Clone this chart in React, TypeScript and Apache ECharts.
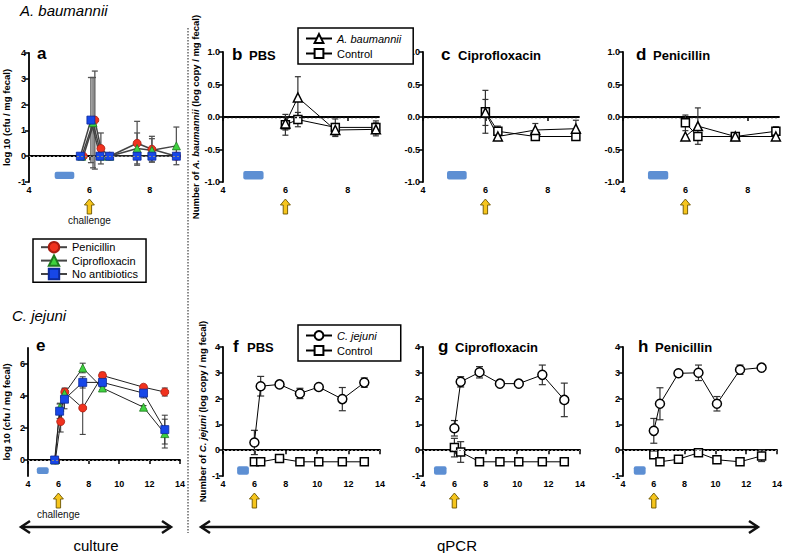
import React, { useEffect, useRef } from "react";
import * as echarts from "echarts";

// ---------- DATA ----------
const CHALLENGE_DAY = 6;

// Panel a: A. baumannii, culture (log10 cfu / mg fecal)
const aPenX = [5.8, 6.18, 6.38, 6.67, 7.58, 8.07, 8.88];
const aPenY = [0, 1.4, 0.3, 0, 0.5, 0.27, 0];
const aPenErr = [0, 1.9, 0.6, 0, 0.85, 0.5, 0];
const aCipX = [5.75, 6.12, 6.4, 6.67, 7.58, 8.07, 8.88];
const aCipY = [0, 1.3, 0, 0, 0.3, 0.23, 0.4];
const aCipErr = [0, 1.75, 0, 0, 0.6, 0.45, 0.73];
const aNoX = [5.7, 6.05, 6.35, 6.67, 7.58, 8.07, 8.88];
const aNoY = [0, 1.4, 0, 0, 0, 0, 0];
const aNoErr = [0, 1.65, 0, 0, 0, 0, 0];

// Panel e: C. jejuni, culture
const ePenX = [5.8, 6.15, 6.42, 7.6, 8.9, 11.6, 13];
const ePenY = [0, 2.4, 4.25, 3.25, 5.28, 4.55, 4.25];
const ePenErr = [0, 0.65, 0.25, 1.65, 0.2, 0.1, 0.25];
const eCipX = [5.78, 6.1, 6.4, 7.6, 8.9, 11.6, 13];
const eCipY = [0, 3.3, 4.15, 5.75, 4.5, 3.3, 1.65];
const eCipErr = [0, 0.25, 0.3, 0.3, 0.1, 0.1, 0.9];
const eNoX = [5.75, 6.08, 6.4, 7.6, 8.9, 11.6, 13];
const eNoY = [0, 3.05, 3.8, 4.85, 4.85, 4.18, 1.9];
const eNoErr = [0, 0.45, 0.6, 0.35, 0.3, 0.3, 0.9];

// Panels b-d: A. baumannii qPCR (log copy / mg fecal)
const abX = [6, 6.4, 7.6, 8.9];
const bAb = [-0.1, 0.3, -0.2, -0.19];
const bAbErr = [0.1, 0.32, 0.1, 0.1];
const bCtl = [-0.12, -0.04, -0.16, -0.16];
const bCtlErr = [0.16, 0.11, 0.13, 0.1];
const cAb = [0.07, -0.3, -0.2, -0.18];
const cAbErr = [0.2, 0.03, 0.1, 0.13];
const cCtl = [0.08, -0.22, -0.3, -0.3];
const cCtlErr = [0.33, 0.08, 0, 0];
const dAb = [-0.3, -0.14, -0.3, -0.3];
const dAbErr = [0, 0.28, 0, 0];
const dCtl = [-0.09, -0.3, -0.3, -0.22];
const dCtlErr = [0.12, 0, 0.03, 0.07];

// Panels f-h: C. jejuni qPCR
const cjX = [6, 6.4, 7.6, 8.9, 10.1, 11.6, 13];
const fCj = [0.3, 2.48, 2.55, 2.2, 2.45, 1.98, 2.62];
const fCjErr = [0.47, 0.38, 0.06, 0.2, 0.06, 0.45, 0.18];
const fCtl = [-0.45, -0.45, -0.32, -0.45, -0.45, -0.45, -0.45];
const fCtlErr = [0, 0, 0, 0, 0, 0, 0];
const gCj = [0.85, 2.65, 3.02, 2.58, 2.58, 2.92, 1.95];
const gCjErr = [0.3, 0.2, 0.22, 0.1, 0.1, 0.38, 0.65];
const gCtl = [0.1, -0.07, -0.45, -0.45, -0.45, -0.45, -0.45];
const gCtlErr = [0.36, 0.4, 0, 0, 0, 0, 0];
const hCj = [0.75, 1.8, 2.98, 3.0, 1.8, 3.12, 3.2];
const hCjErr = [0.48, 0.62, 0.1, 0.3, 0.28, 0.18, 0.05];
const hCtl = [-0.18, -0.45, -0.35, -0.1, -0.37, -0.45, -0.22];
const hCtlErr = [0.1, 0, 0, 0.1, 0, 0, 0.22];

// Antibiotic treatment period boxes per panel: [xStart, xEnd, yTop, yBottom]
const treatA = [4.85, 5.5, -0.6, -0.88];
const treatB = [4.65, 5.3, -0.83, -0.96];
const treatC = [4.77, 5.4, -0.83, -0.96];
const treatD = [4.8, 5.45, -0.83, -0.96];
const treatE = [4.58, 5.36, -0.45, -0.88];
const treatF = [4.9, 5.65, -0.62, -0.95];
const treatG = [4.7, 5.5, -0.62, -0.95];
const treatH = [4.7, 5.47, -0.62, -0.95];

// Tick labels
const xTicksTop = [4, 6, 8];
const yTicksE = [0, 2, 4, 6];

// ---------- LAYOUT ----------
const grids = [
  { left: 27, top: 53, width: 153, height: 129 }, // a
  { left: 223, top: 52, width: 156, height: 130 }, // b
  { left: 423, top: 52, width: 156, height: 130 }, // c
  { left: 623, top: 52, width: 156, height: 130 }, // d
  { left: 26, top: 348, width: 154, height: 128 }, // e
  { left: 223, top: 347, width: 157, height: 129 }, // f
  { left: 423, top: 347, width: 157, height: 129 }, // g
  { left: 623, top: 347, width: 157, height: 129 }, // h
];

const FONT = "'Liberation Sans', Arial, sans-serif";
const NARROW = "'Liberation Sans Narrow', 'Liberation Sans', Arial, sans-serif";

const cultureStyle: Record<string, any> = {
  Penicillin: { symbol: "circle", color: "#f0321e", border: "#a81c10", size: 8 },
  Ciprofloxacin: { symbol: "triangle", color: "#3fd23f", border: "#1f7a1f", size: 8 },
  "No antibiotics": { symbol: "rect", color: "#1747e8", border: "#0c2a99", size: 8 },
};

function zip(xs: number[], ys: number[]) {
  return xs.map((x, i) => [x, ys[i]]);
}

function errSeries(idx: number, xs: number[], ys: number[], errs: number[], color: string, width: number, cap: number) {
  const data = xs.map((x, i) => [x, ys[i], errs[i]]).filter((d) => d[2] > 0);
  return {
    type: "custom",
    xAxisIndex: idx,
    yAxisIndex: idx,
    z: 2,
    silent: true,
    data,
    encode: { x: 0, y: 1 },
    renderItem: (params: any, api: any) => {
      const x = api.value(0);
      const y = api.value(1);
      const e = api.value(2);
      const t = api.coord([x, y + e]);
      const b = api.coord([x, y - e]);
      const st = { stroke: color, lineWidth: width, fill: null };
      return {
        type: "group",
        children: [
          { type: "line", shape: { x1: t[0], y1: t[1], x2: b[0], y2: b[1] }, style: st },
          { type: "line", shape: { x1: t[0] - cap, y1: t[1], x2: t[0] + cap, y2: t[1] }, style: st },
          { type: "line", shape: { x1: b[0] - cap, y1: b[1], x2: b[0] + cap, y2: b[1] }, style: st },
        ],
      };
    },
  };
}

function zeroLine(gray: boolean) {
  return {
    silent: true,
    symbol: ["none", "none"],
    label: { show: false },
    lineStyle: gray
      ? { type: [2, 2], color: "#888", width: 1 }
      : { type: [2, 2], color: "#111", width: 1.3 },
    data: [{ yAxis: 0 }],
  };
}

function cultureLine(idx: number, name: string, xs: number[], ys: number[], lineColor: string, lineWidth: number, withZero: boolean) {
  const s = cultureStyle[name];
  const ser: any = {
    type: "line",
    name,
    xAxisIndex: idx,
    yAxisIndex: idx,
    data: zip(xs, ys),
    symbol: s.symbol,
    symbolSize: s.size,
    z: 4,
    itemStyle: { color: s.color, borderColor: s.border, borderWidth: 0.8 },
    lineStyle: { color: lineColor, width: lineWidth },
  };
  if (withZero) ser.markLine = zeroLine(true);
  return ser;
}

function qpcrLine(idx: number, name: string, xs: number[], ys: number[], symbol: string, size: number, withZero: boolean, grayZero: boolean) {
  const ser: any = {
    type: "line",
    name,
    xAxisIndex: idx,
    yAxisIndex: idx,
    data: zip(xs, ys),
    symbol,
    symbolSize: size,
    z: 4,
    itemStyle: { color: "#fff", borderColor: "#000", borderWidth: 1.5 },
    lineStyle: { color: "#000", width: 1 },
  };
  if (withZero) ser.markLine = zeroLine(grayZero);
  return ser;
}

function treatSeries(idx: number, box: number[]) {
  return {
    type: "custom",
    xAxisIndex: idx,
    yAxisIndex: idx,
    silent: true,
    z: 1,
    data: [box],
    encode: { x: [0, 1], y: [2, 3] },
    renderItem: (params: any, api: any) => {
      const p0 = api.coord([api.value(0), api.value(2)]);
      const p1 = api.coord([api.value(1), api.value(3)]);
      return {
        type: "rect",
        shape: { x: p0[0], y: p0[1], width: p1[0] - p0[0], height: p1[1] - p0[1], r: 2 },
        style: { fill: "#5d8fd3" },
      };
    },
  };
}

function arrowSeries(idx: number, yMin: number, withText: boolean) {
  return {
    type: "custom",
    xAxisIndex: idx,
    yAxisIndex: idx,
    silent: true,
    z: 5,
    data: [[CHALLENGE_DAY, yMin]],
    encode: { x: 0, y: 1 },
    renderItem: (params: any, api: any) => {
      const p = api.coord([api.value(0), api.value(1)]);
      const cx = p[0];
      const top = p[1] + 17;
      const pts = [
        [cx, top],
        [cx + 5, top + 6],
        [cx + 2.2, top + 6],
        [cx + 2.2, top + 15],
        [cx - 2.2, top + 15],
        [cx - 2.2, top + 6],
        [cx - 5, top + 6],
      ];
      const children: any[] = [
        {
          type: "polygon",
          shape: { points: pts },
          style: { fill: "#f6c51c", stroke: "#6b5500", lineWidth: 0.9 },
        },
      ];
      if (withText) {
        children.push({
          type: "text",
          x: cx,
          y: top + 21,
          style: {
            text: "challenge",
            fill: "#111",
            font: `10px ${FONT}`,
            textAlign: "center",
            textVerticalAlign: "middle",
          },
        });
      }
      return { type: "group", children };
    },
  };
}

export default function App() {
  const ref = useRef<HTMLDivElement>(null);

  useEffect(() => {
    if (!ref.current) return;
    const chart = echarts.init(ref.current, null, { renderer: "svg" });

    const axisLabel = { color: "#000", fontWeight: "bold", fontSize: 9, fontFamily: NARROW, margin: 3 };
    const axisLine = { show: true, lineStyle: { color: "#000", width: 1.8 } };
    const axisTick = { show: true, length: 4, lineStyle: { color: "#000", width: 1.5 } };

    const xAxis: any[] = grids.map((g, i) => {
      const top = i < 4;
      return {
        type: "value",
        gridIndex: i,
        min: 4,
        max: top ? 9 : 14,
        interval: 2,
        splitLine: { show: false },
        axisLine,
        axisTick: top ? { ...axisTick, customValues: xTicksTop } : axisTick,
        axisLabel: top ? { ...axisLabel, customValues: xTicksTop } : axisLabel,
      };
    });

    const nameStyle = {
      fontWeight: "bold",
      fontSize: 9.5,
      fontFamily: NARROW,
      color: "#000",
      rich: { i: { fontStyle: "italic", fontWeight: "bold", fontSize: 9.5, fontFamily: NARROW, color: "#000" } },
    };

    const yAxis: any[] = grids.map((g, i) => {
      const base: any = {
        type: "value",
        gridIndex: i,
        splitLine: { show: false },
        axisLine,
        axisTick,
        axisLabel: { ...axisLabel },
        nameLocation: "middle",
        nameRotate: 90,
        nameTextStyle: nameStyle,
      };
      if (i === 0) {
        Object.assign(base, { min: -1, max: 4, interval: 1, name: "log 10 (cfu / mg fecal)", nameGap: 18 });
      } else if (i === 4) {
        Object.assign(base, {
          min: -1,
          max: 7,
          interval: 1,
          name: "log 10 (cfu / mg fecal)",
          nameGap: 17,
          axisTick: { ...axisTick, customValues: yTicksE },
          axisLabel: { ...axisLabel, customValues: yTicksE },
        });
      } else if (i < 4) {
        Object.assign(base, {
          min: -1,
          max: 1,
          interval: 0.5,
          axisLabel: { ...axisLabel, formatter: (v: number) => v.toFixed(1) },
        });
        if (i === 1) {
          base.name = "Number of {i|A. baumannii} (log copy / mg fecal)";
          base.nameGap = 22;
        }
      } else {
        Object.assign(base, { min: -1, max: 4, interval: 1 });
        if (i === 5) {
          base.name = "Number of {i|C. jejuni} (log copy / mg fecal)";
          base.nameGap = 16;
        }
      }
      return base;
    });

    const errGray = "#555";
    const series: any[] = [
      // ---- panel a ----
      treatSeries(0, treatA),
      arrowSeries(0, -1, true),
      errSeries(0, aPenX, aPenY, aPenErr, errGray, 1.3, 3),
      errSeries(0, aCipX, aCipY, aCipErr, errGray, 1.3, 3),
      errSeries(0, aNoX, aNoY, aNoErr, errGray, 1.3, 3),
      cultureLine(0, "Penicillin", aPenX, aPenY, "#444", 1.5, true),
      cultureLine(0, "Ciprofloxacin", aCipX, aCipY, "#444", 1.5, false),
      cultureLine(0, "No antibiotics", aNoX, aNoY, "#444", 1.5, false),
      // ---- panel e ----
      treatSeries(4, treatE),
      arrowSeries(4, -1, true),
      errSeries(4, ePenX, ePenY, ePenErr, "#333", 1, 3),
      errSeries(4, eCipX, eCipY, eCipErr, "#333", 1, 3),
      errSeries(4, eNoX, eNoY, eNoErr, "#333", 1, 3),
      cultureLine(4, "Penicillin", ePenX, ePenY, "#222", 1, true),
      cultureLine(4, "Ciprofloxacin", eCipX, eCipY, "#222", 1, false),
      cultureLine(4, "No antibiotics", eNoX, eNoY, "#222", 1, false),
    ];

    const topPanels = [
      { idx: 1, ab: bAb, abE: bAbErr, ctl: bCtl, ctlE: bCtlErr, box: treatB },
      { idx: 2, ab: cAb, abE: cAbErr, ctl: cCtl, ctlE: cCtlErr, box: treatC },
      { idx: 3, ab: dAb, abE: dAbErr, ctl: dCtl, ctlE: dCtlErr, box: treatD },
    ];
    topPanels.forEach((p) => {
      series.push(treatSeries(p.idx, p.box));
      series.push(arrowSeries(p.idx, -1, false));
      series.push(errSeries(p.idx, abX, p.ab, p.abE, "#333", 1.2, 3));
      series.push(errSeries(p.idx, abX, p.ctl, p.ctlE, "#333", 1.2, 3));
      series.push(qpcrLine(p.idx, "Control", abX, p.ctl, "rect", 8, true, false));
      series.push(qpcrLine(p.idx, "A. baumannii", abX, p.ab, "triangle", 9, false, false));
    });

    const botPanels = [
      { idx: 5, cj: fCj, cjE: fCjErr, ctl: fCtl, ctlE: fCtlErr, box: treatF },
      { idx: 6, cj: gCj, cjE: gCjErr, ctl: gCtl, ctlE: gCtlErr, box: treatG },
      { idx: 7, cj: hCj, cjE: hCjErr, ctl: hCtl, ctlE: hCtlErr, box: treatH },
    ];
    botPanels.forEach((p) => {
      series.push(treatSeries(p.idx, p.box));
      series.push(arrowSeries(p.idx, -1, false));
      series.push(errSeries(p.idx, cjX, p.cj, p.cjE, "#333", 1.2, 3.5));
      series.push(errSeries(p.idx, cjX, p.ctl, p.ctlE, "#333", 1.2, 3.5));
      series.push(qpcrLine(p.idx, "C. jejuni", cjX, p.cj, "circle", 9, true, true));
      series.push(qpcrLine(p.idx, "Control", cjX, p.ctl, "rect", 8, false, true));
    });

    const fs = 11;
    const legendBase = {
      orient: "vertical",
      borderColor: "#000",
      borderWidth: 1.5,
      backgroundColor: "#fff",
      itemWidth: 26,
      itemHeight: 11,
      selectedMode: false,
      textStyle: { fontSize: fs, fontFamily: FONT, color: "#000", rich: { i: { fontStyle: "italic", fontSize: fs, fontFamily: FONT, color: "#000" } } },
      formatter: (n: string) => (n === "A. baumannii" || n === "C. jejuni" ? `{i|${n}}` : n),
    };

    const title = (x: number, y: number, letter: string, word: string) => [
      { type: "text", x, y, style: { text: letter, font: `bold 17px ${FONT}`, fill: "#000", textVerticalAlign: "middle" } },
      ...(word
        ? [{ type: "text", x: x + (letter === "f" ? 14 : 17), y: y + 1, style: { text: word, font: `bold 13px ${FONT}`, fill: "#000", textVerticalAlign: "middle" } }]
        : []),
    ];

    const graphic: any[] = [
      { type: "text", x: 20, y: 10, style: { text: "A. baumannii", font: `italic 15px ${FONT}`, fill: "#000", textVerticalAlign: "middle" } },
      { type: "text", x: 12, y: 315, style: { text: "C. jejuni", font: `italic 15px ${FONT}`, fill: "#000", textVerticalAlign: "middle" } },
      ...title(37, 53, "a", ""),
      ...title(232, 54, "b", "PBS"),
      ...title(441, 54, "c", "Ciprofloxacin"),
      ...title(636, 54, "d", "Penicillin"),
      ...title(36, 345, "e", ""),
      ...title(233, 346, "f", "PBS"),
      ...title(438, 346, "g", "Ciprofloxacin"),
      ...title(638, 346, "h", "Penicillin"),
      { type: "line", shape: { x1: 188, y1: 28, x2: 188, y2: 533 }, style: { stroke: "#666", lineWidth: 1.5, lineDash: [1.5, 1.5] } },
      // culture double arrow
      { type: "line", shape: { x1: 21, y1: 527, x2: 171, y2: 527 }, style: { stroke: "#111", lineWidth: 2.5 } },
      { type: "polyline", shape: { points: [[30, 521], [21, 527], [30, 533]] }, style: { stroke: "#111", lineWidth: 2.5, fill: null } },
      { type: "polyline", shape: { points: [[162, 521], [171, 527], [162, 533]] }, style: { stroke: "#111", lineWidth: 2.5, fill: null } },
      { type: "text", x: 96, y: 545, style: { text: "culture", font: `15px ${FONT}`, fill: "#000", textAlign: "center", textVerticalAlign: "middle" } },
      // qPCR double arrow
      { type: "line", shape: { x1: 201, y1: 527, x2: 758, y2: 527 }, style: { stroke: "#111", lineWidth: 2.5 } },
      { type: "polyline", shape: { points: [[210, 521], [201, 527], [210, 533]] }, style: { stroke: "#111", lineWidth: 2.5, fill: null } },
      { type: "polyline", shape: { points: [[749, 521], [758, 527], [749, 533]] }, style: { stroke: "#111", lineWidth: 2.5, fill: null } },
      { type: "text", x: 457, y: 545, style: { text: "qPCR", font: `15px ${FONT}`, fill: "#000", textAlign: "center", textVerticalAlign: "middle" } },
    ];

    chart.setOption({
      animation: false,
      backgroundColor: "#fff",
      grid: grids.map((g) => ({ ...g, containLabel: false })),
      xAxis,
      yAxis,
      series,
      legend: [
        {
          ...legendBase,
          data: ["Penicillin", "Ciprofloxacin", "No antibiotics"],
          left: 33,
          top: 239,
          itemHeight: 13,
          itemGap: 1,
          padding: [2, 8, 2, 7],
        },
        {
          ...legendBase,
          data: ["A. baumannii", "Control"],
          left: 298,
          top: 28,
          itemGap: 4,
          padding: [5, 12, 5, 7],
        },
        {
          ...legendBase,
          data: ["C. jejuni", "Control"],
          left: 298,
          top: 325,
          itemGap: 4,
          padding: [5, 24, 5, 7],
        },
      ],
      graphic,
    });

    return () => chart.dispose();
  }, []);

  return <div ref={ref} style={{ position: "fixed", left: 0, top: 0, width: 785, height: 553 }} />;
}
